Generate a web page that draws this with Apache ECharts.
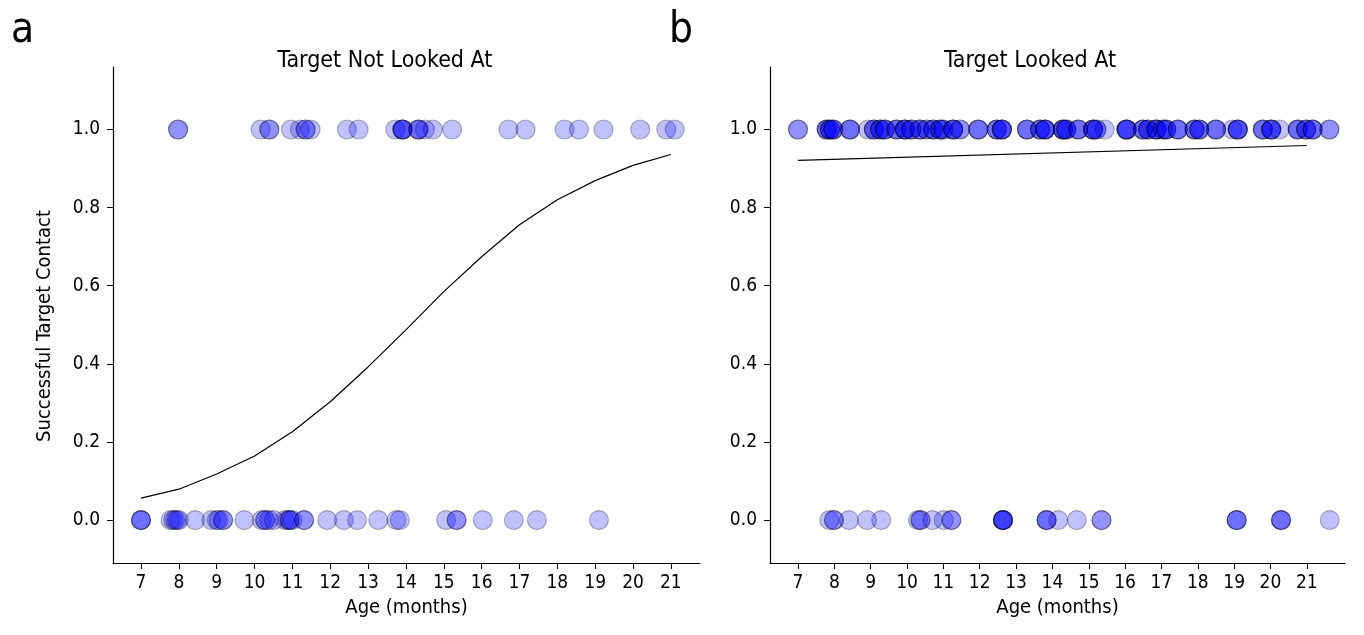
<!DOCTYPE html>
<html>
<head>
<meta charset="utf-8">
<title>Target contact by age</title>
<script src="https://cdn.jsdelivr.net/npm/echarts@6/dist/echarts.min.js"></script>
<style>
  html, body { margin: 0; padding: 0; background: #fff; }
  #chart { width: 1364px; height: 635px; }
</style>
</head>
<body>
<div id="chart"></div>
<script>
// ages (months) of each trial, split by panel and by outcome (1 = hit, 0 = miss)
const notLookedHit = [7.98, 7.98, 10.16, 10.39, 10.39, 10.96, 11.2, 11.35, 11.35, 11.48, 12.44, 12.75,
  13.72, 13.91, 13.91, 13.91, 13.91, 14.33, 14.33, 14.33, 14.5, 14.71, 15.22, 16.71, 17.16, 18.19,
  18.57, 19.22, 20.19, 20.88, 21.1];
const notLookedMiss = [7.0, 7.0, 7.0, 7.78, 7.85, 7.9, 7.95, 8.0, 8.43, 8.86, 9.0, 9.05, 9.17, 9.17,
  9.73, 10.19, 10.28, 10.28, 10.38, 10.51, 10.8, 10.88, 10.93, 10.93, 11.0, 11.31, 11.31, 11.92, 12.36,
  12.71, 13.27, 13.75, 13.84, 15.06, 15.34, 15.34, 16.03, 16.85, 17.46, 19.1];
const lookedHit = [7.0, 7.0,
  7.79, 7.79, 7.79, 7.88, 7.88, 7.88, 7.97, 7.97, 7.97,
  8.43, 8.43, 8.43,
  8.93, 9.09, 9.09, 9.09, 9.26, 9.26, 9.26, 9.39, 9.39, 9.39,
  9.71, 9.71, 9.71, 9.94, 9.94, 9.94, 9.94, 10.12, 10.12, 10.12, 10.35, 10.35, 10.35, 10.54, 10.54,
  10.72, 10.72, 10.72, 10.91, 10.91, 10.91, 11.0, 11.0, 11.27, 11.27, 11.27, 11.27, 11.46, 11.46,
  11.96, 11.96, 11.96, 12.47, 12.47, 12.47, 12.61, 12.61, 12.61, 12.61,
  13.3, 13.3, 13.3, 13.66, 13.66, 13.66, 13.8, 13.8, 13.8, 13.8,
  14.29, 14.29, 14.29, 14.29, 14.38, 14.38, 14.38, 14.71, 14.71, 14.71,
  15.12, 15.12, 15.12, 15.12, 15.21, 15.21, 15.44,
  16.04, 16.04, 16.04, 16.04, 16.04, 16.49, 16.49, 16.49, 16.63, 16.63, 16.63,
  16.86, 16.86, 16.86, 16.86, 17.04, 17.04, 17.13, 17.13, 17.13, 17.45, 17.45, 17.45,
  17.91, 17.91, 17.91, 18.04, 18.04, 18.04, 18.5, 18.5, 18.5,
  18.95, 19.1, 19.1, 19.1, 19.1, 19.79, 19.79, 19.79, 20.02, 20.02, 20.02, 20.02, 20.25,
  20.75, 20.75, 20.75, 20.98, 20.98, 20.98, 21.16, 21.16, 21.16, 21.62, 21.62];
const lookedMiss = [7.86, 7.99, 7.99, 8.4, 8.9, 9.29, 10.3, 10.37, 10.37, 10.7, 11.01, 11.22, 11.22,
  12.64, 12.64, 12.64, 12.64, 12.64, 13.84, 13.84, 13.84, 14.16, 14.67, 15.35, 15.35,
  19.07, 19.07, 19.07, 20.29, 20.29, 20.29, 21.63];

// fitted logistic curves
const fitAges = [7, 8, 9, 10, 11, 12, 13, 14, 15, 16, 17, 18, 19, 20, 21];
const fitNotLooked = [0.056, 0.079, 0.118, 0.164, 0.226, 0.303, 0.392, 0.487, 0.585, 0.674, 0.756,
  0.82, 0.869, 0.908, 0.936];
const fitLookedAges = [7, 21];
const fitLooked = [0.921, 0.959];

// tick labels
const ageTicks = [7, 8, 9, 10, 11, 12, 13, 14, 15, 16, 17, 18, 19, 20, 21];
const probTicks = [0, 0.2, 0.4, 0.6, 0.8, 1.0];

const FONT = '"Liberation Sans Narrow", "DejaVu Sans Condensed", sans-serif';

const chart = echarts.init(document.getElementById('chart'));

function pairs(ages, y) {
  return ages.map(a => [a, y]);
}

function xAxisFor(gridIndex, min, max) {
  return {
    type: 'value',
    gridIndex: gridIndex,
    min: min,
    max: max,
    name: 'Age (months)',
    nameLocation: 'middle',
    nameGap: 33,
    nameTextStyle: { color: '#000', fontSize: 20, fontFamily: FONT },
    splitLine: { show: false },
    axisLine: { show: true, onZero: false, lineStyle: { color: '#000', width: 1.2 } },
    axisTick: { show: true, length: 6, customValues: ageTicks, lineStyle: { color: '#000' } },
    axisLabel: { customValues: ageTicks, color: '#000', fontSize: 19, fontFamily: FONT, margin: 11 }
  };
}

function yAxisFor(gridIndex) {
  return {
    type: 'value',
    gridIndex: gridIndex,
    min: -0.11,
    max: 1.16,
    splitLine: { show: false },
    axisLine: { show: true, onZero: false, lineStyle: { color: '#000', width: 1.2 } },
    axisTick: { show: true, length: 6, customValues: probTicks, lineStyle: { color: '#000' } },
    axisLabel: {
      customValues: probTicks,
      color: '#000',
      fontSize: 19,
      fontFamily: FONT,
      margin: 13,
      formatter: v => Number(v).toFixed(1)
    }
  };
}

const dotStyle = {
  color: 'rgba(0, 0, 255, 0.3)',
  borderColor: 'rgba(0, 0, 0, 0.35)',
  borderWidth: 1.2
};

function dots(data, idx) {
  return {
    type: 'scatter',
    xAxisIndex: idx,
    yAxisIndex: idx,
    symbol: 'circle',
    symbolSize: 19,
    itemStyle: dotStyle,
    silent: true,
    z: 3,
    data: data
  };
}

function fitLine(ages, vals, idx) {
  return {
    type: 'line',
    xAxisIndex: idx,
    yAxisIndex: idx,
    showSymbol: false,
    silent: true,
    z: 2,
    lineStyle: { color: '#000', width: 1.2 },
    data: ages.map((a, i) => [a, vals[i]])
  };
}

const option = {
  animation: false,
  backgroundColor: '#fff',
  textStyle: { fontFamily: FONT },
  grid: [
    { left: 113, top: 67, width: 587, height: 496 },
    { left: 770, top: 67, width: 575, height: 496 }
  ],
  xAxis: [xAxisFor(0, 6.26, 21.77), xAxisFor(1, 6.23, 22.05)],
  yAxis: [yAxisFor(0), yAxisFor(1)],
  graphic: [
    { type: 'text', left: 11, top: 10, style: { text: 'a', fontSize: 42, fontFamily: FONT, fill: '#000' } },
    { type: 'text', left: 669, top: 10, style: { text: 'b', fontSize: 42, fontFamily: FONT, fill: '#000' } },
    { type: 'text', x: 385, y: 61, style: { text: 'Target Not Looked At', fontSize: 23, fontFamily: FONT, fill: '#000', align: 'center', verticalAlign: 'middle' } },
    { type: 'text', x: 1030, y: 61, style: { text: 'Target Looked At', fontSize: 23, fontFamily: FONT, fill: '#000', align: 'center', verticalAlign: 'middle' } },
    { type: 'text', x: 45, y: 326, rotation: Math.PI / 2, style: { text: 'Successful Target Contact', fontSize: 20, fontFamily: FONT, fill: '#000', align: 'center', verticalAlign: 'middle' } }
  ],
  series: [
    fitLine(fitAges, fitNotLooked, 0),
    dots(pairs(notLookedHit, 1), 0),
    dots(pairs(notLookedMiss, 0), 0),
    fitLine(fitLookedAges, fitLooked, 1),
    dots(pairs(lookedHit, 1), 1),
    dots(pairs(lookedMiss, 0), 1)
  ]
};

chart.setOption(option);
</script>
</body>
</html>
